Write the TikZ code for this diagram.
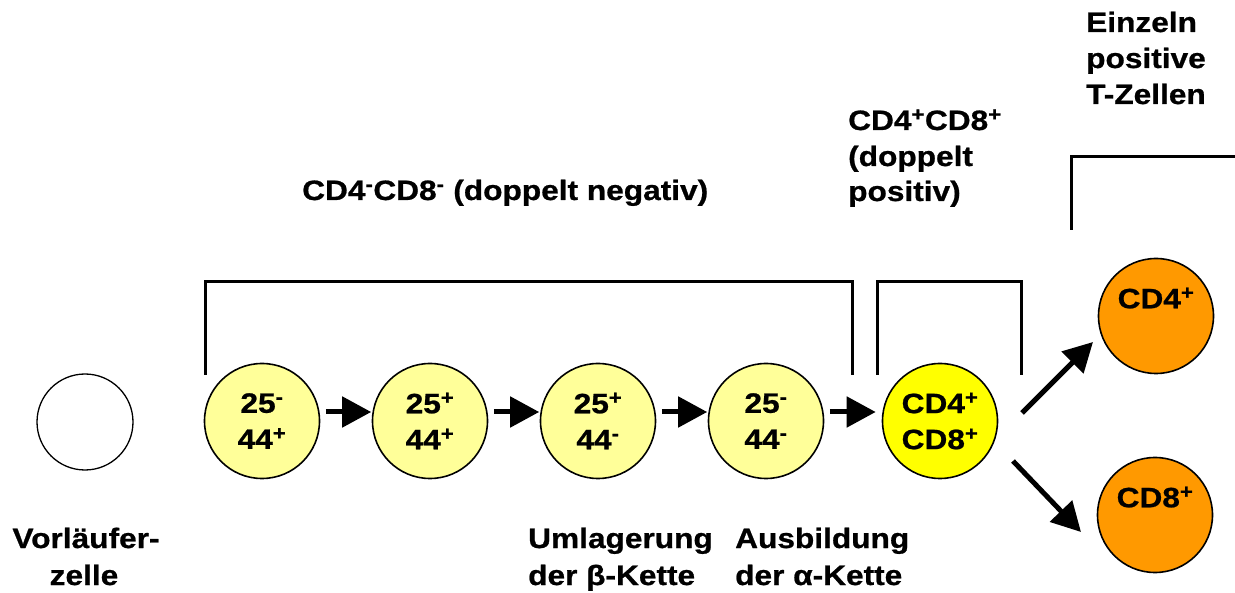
\documentclass[tikz,border=0pt]{standalone}
\usepackage{fontspec}
\setmainfont{Liberation Sans}[FakeStretch=1.13, BoldFeatures={FakeBold=0.8}]
\usetikzlibrary{arrows.meta}
\definecolor{lyel}{HTML}{FFFF99}
\definecolor{yel}{HTML}{FFFF00}
\definecolor{org}{HTML}{FF9900}
\tikzset{
  cell/.style={circle, draw=black, line width=1.6pt, minimum size=115pt, inner sep=0pt, align=center,
    font=\fontsize{28}{36}\selectfont\bfseries},
  lbl/.style={inner sep=0pt, font=\fontsize{28}{36}\selectfont\bfseries},
  brk/.style={line width=3pt},
  arr/.style={line width=5pt, -{Triangle[length=29pt,width=30pt]}},
}
\newcommand{\sps}[1]{\textsuperscript{#1}}
\begin{document}
\begin{tikzpicture}[x=1pt,y=-1pt]
\useasboundingbox (0,0) rectangle (1235,593);
% cells
\node[cell, fill=white, minimum size=96pt, line width=1.3pt] (v) at (85,422) {};
\node[cell, fill=lyel] (c1) at (262,421) {25\sps{-}\\44\sps{+}};
\node[cell, fill=lyel] (c2) at (430,421) {25\sps{+}\\44\sps{+}};
\node[cell, fill=lyel] (c3) at (598,421) {25\sps{+}\\44\sps{-}};
\node[cell, fill=lyel] (c4) at (766,421) {25\sps{-}\\44\sps{-}};
\node[cell, fill=yel] (dp) at (940,421) {CD4\sps{+}\\CD8\sps{+}};
\node[cell, fill=org] (s4) at (1156,316) {CD4\sps{+}\\[0pt]\phantom{X}};
\node[cell, fill=org] (s8) at (1155,515) {CD8\sps{+}\\[0pt]\phantom{X}};
% horizontal arrows
\draw[arr, shorten <=5.5pt, shorten >=0.5pt] ([yshift=9pt]c1.east) -- ([yshift=9pt]c2.west);
\draw[arr, shorten <=5.5pt, shorten >=0.5pt] ([yshift=9pt]c2.east) -- ([yshift=9pt]c3.west);
\draw[arr, shorten <=5.5pt, shorten >=0.5pt] ([yshift=9pt]c3.east) -- ([yshift=9pt]c4.west);
\draw[arr, shorten <=5.5pt, shorten >=6pt] ([yshift=9pt]c4.east) -- ([yshift=9pt]dp.west);
% diagonal arrows
\coordinate (u0) at (1022,413);
\coordinate (u1) at (1093,342);
\coordinate (d0) at (1013,461);
\coordinate (d1) at (1081,532);
\draw[arr] (u0) -- (u1);
\draw[arr] (d0) -- (d1);
% brackets
\draw[brk] (205,375) -- (205,282) -- (852,282) -- (852,375);
\draw[brk] (877,375) -- (877,282) -- (1021,282) -- (1021,375);
\draw[brk] (1071,230) -- (1071,157) -- (1236,157);
% labels
\node[lbl, anchor=base west] (tneg) at (302,200) {CD4\sps{-}CD8\sps{-} (doppelt negativ)};
\node[lbl, anchor=base west] (tdp1) at (848,130) {CD4\sps{+}CD8\sps{+}};
\node[lbl, anchor=base west] (tdp2) at (848,166) {(doppelt};
\node[lbl, anchor=base west] (tdp3) at (848,201) {positiv)};
\node[lbl, anchor=base west] (te1) at (1086,32) {Einzeln};
\node[lbl, anchor=base west] (te2) at (1086,68) {positive};
\node[lbl, anchor=base west] (te3) at (1086,104) {T-Zellen};
\node[lbl, anchor=base] (tv1) at (86,548) {Vorläufer-};
\node[lbl, anchor=base] (tv2) at (84,585) {zelle};
\node[lbl, anchor=base west] (tu1) at (528,548) {Umlagerung};
\node[lbl, anchor=base west] (tu2) at (528,585) {der β-Kette};
\node[lbl, anchor=base west] (ta1) at (735,548) {Ausbildung};
\node[lbl, anchor=base west] (ta2) at (735,585) {der α-Kette};
\end{tikzpicture}
\end{document}
